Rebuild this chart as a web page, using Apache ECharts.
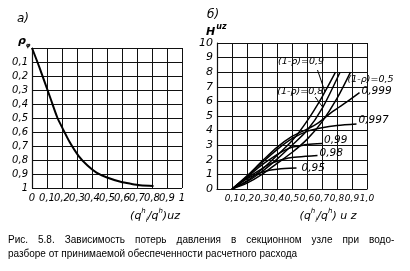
<!DOCTYPE html>
<html><head><meta charset="utf-8">
<script src="https://cdn.jsdelivr.net/npm/echarts@6/dist/echarts.min.js"></script>
<style>html,body{margin:0;padding:0;background:#fff}#c{width:410px;height:271px}</style>
</head><body><div id="c"></div>
<script>
// ---- left chart (а) ----
const leftQ   = [0, 0.05, 0.12, 0.17, 0.20, 0.25, 0.31, 0.37, 0.43, 0.50, 0.59, 0.66, 0.72, 0.81];
const leftRho = [0, 0.14, 0.35, 0.50, 0.565, 0.67, 0.77, 0.84, 0.89, 0.925, 0.955, 0.97, 0.98, 0.985];
const leftXTicks = ['0','0,1','0,2','0,3','0,4','0,5','0,6','0,7','0,8','0,9','1'];
const leftYTicks = ['','0,1','0,2','0,3','0,4','0,5','0,6','0,7','0,8','0,9','1'];

// ---- right chart (б) ----
const q_09 = [0.1, 0.2, 0.3, 0.4, 0.5, 0.6, 0.7, 0.79];
const H_09 = [0, 0.55, 1.35, 2.3, 3.3, 4.65, 6.3, 8.0];
const q_08 = [0.1, 0.2, 0.3, 0.4, 0.5, 0.6, 0.7, 0.82];
const H_08 = [0, 0.5, 1.2, 2.05, 3.0, 4.0, 5.5, 8.0];
const q_05 = [0.1, 0.2, 0.3, 0.4, 0.5, 0.6, 0.7, 0.8, 0.89];
const H_05 = [0, 0.4, 1.0, 1.75, 2.5, 3.4, 4.6, 6.2, 8.0];
const q_0999 = [0.1, 0.2, 0.3, 0.4, 0.5, 0.6, 0.67, 0.77, 0.87, 0.95];
const H_0999 = [0, 0.9, 1.9, 2.85, 3.6, 4.1, 4.5, 5.3, 6.0, 6.6];
const q_0997 = [0.1, 0.2, 0.3, 0.4, 0.5, 0.6, 0.7, 0.8, 0.93];
const H_0997 = [0, 0.85, 1.8, 2.7, 3.45, 3.95, 4.2, 4.35, 4.45];
const q_099 = [0.1, 0.2, 0.3, 0.4, 0.45, 0.5, 0.55, 0.6, 0.7];
const H_099 = [0, 0.8, 1.65, 2.35, 2.65, 2.85, 2.95, 3.05, 3.12];
const q_098 = [0.1, 0.2, 0.3, 0.35, 0.4, 0.45, 0.5, 0.6, 0.67];
const H_098 = [0, 0.75, 1.4, 1.7, 1.9, 2.05, 2.15, 2.25, 2.3];
const q_095 = [0.1, 0.15, 0.2, 0.25, 0.3, 0.35, 0.4, 0.45, 0.53];
const H_095 = [0, 0.35, 0.7, 0.95, 1.15, 1.28, 1.36, 1.41, 1.44];
const rightXTicks = ['','0,1','0,2','0,3','0,4','0,5','0,6','0,7','0,8','0,9','1,0'];
const rightYTicks = ['0','1','2','3','4','5','6','7','8','9','10'];

const captionLine1 = ['Рис.', '5.8.', 'Зависимость', 'потерь', 'давления', 'в', 'секционном', 'узле', 'при', 'водо-'];
const captionLine2 = 'разборе от принимаемой обеспеченности расчетного расхода';

const zip = (a, b) => a.map((v, i) => [v, b[i]]);
const FONT = 'DejaVu Sans';
const lblStyle = {fontStyle: 'italic', fontFamily: FONT, fontSize: 10, color: '#000'};
const gridLine = {show: true, lineStyle: {color: '#111', width: 1}};
const axLine = {show: true, lineStyle: {color: '#111', width: 1.2}};
const qRich = {
  n: {fontStyle: 'italic', fontFamily: FONT, fontSize: 11, color: '#000', lineHeight: 16, verticalAlign: 'middle'},
  p: {fontStyle: 'italic', fontFamily: FONT, fontSize: 7, color: '#000', lineHeight: 16, verticalAlign: 'top'},
  s: {fontStyle: 'italic', fontFamily: FONT, fontSize: 7, color: '#000', lineHeight: 16, verticalAlign: 'bottom'}
};

function curve(name, q, H, extra) {
  return Object.assign({
    name, type: 'line', xAxisIndex: 1, yAxisIndex: 1,
    data: zip(q, H), showSymbol: false, smooth: 0.3, silent: true,
    lineStyle: {color: '#000', width: 1.5}, z: 5
  }, extra || {});
}
function endLbl(text, offset) {
  return {endLabel: {show: true, formatter: text, distance: 2, offset: offset || [0, -2],
    fontStyle: 'italic', fontFamily: FONT, fontSize: 10.5, color: '#000'}};
}

const chart = echarts.init(document.getElementById('c'), null, {renderer: 'canvas'});
chart.setOption({
  animation: false,
  backgroundColor: '#fff',
  title: [
    {text: 'а)', left: 17, top: 13, padding: 0, textStyle: {fontStyle: 'italic', fontFamily: FONT, fontSize: 12, fontWeight: 'normal', color: '#000'}},
    {text: '{a|ρ}{b|φ}', left: 18, top: 34, padding: 0, textStyle: {rich: {a: {fontStyle: 'italic', fontFamily: FONT, fontSize: 11, color: '#000'}, b: {fontStyle: 'italic', fontFamily: FONT, fontSize: 6, color: '#000', padding: [8, 0, 0, 0]}}}},
    {text: 'б)', left: 207, top: 9, padding: 0, textStyle: {fontStyle: 'italic', fontFamily: FONT, fontSize: 12, fontWeight: 'normal', color: '#000'}},
    {text: '{a|H}{b|uz}', left: 206, top: 21, padding: 0, textStyle: {rich: {a: {fontStyle: 'italic', fontFamily: FONT, fontSize: 11, color: '#000', padding: [6, 0, 0, 0]}, b: {fontStyle: 'italic', fontFamily: FONT, fontSize: 8, color: '#000', padding: [0, 0, 6, 1]}}}},
    {text: captionLine1.join('\u2003'), left: 8, top: 235, padding: 0,
      textStyle: {fontFamily: 'Liberation Sans', fontSize: 10, fontWeight: 'normal', color: '#000'}},
    {text: captionLine2, left: 8, top: 249, padding: 0,
      textStyle: {fontFamily: 'Liberation Sans', fontSize: 10, fontWeight: 'normal', color: '#000'}}
  ],
  grid: [
    {left: 32, top: 48, width: 150, height: 140},
    {left: 217, top: 43, width: 150, height: 146}
  ],
  xAxis: [
    {type: 'value', gridIndex: 0, min: 0, max: 1, interval: 0.1, axisLine: axLine, axisTick: {show: false},
      splitLine: gridLine, axisLabel: Object.assign({margin: 5, formatter: (v, i) => leftXTicks[i]}, lblStyle),
      name: '{n|(q}{p|h}{s|i}{n|/q}{p|h}{n|)uz}', nameLocation: 'middle', nameGap: 20,
      nameTextStyle: {rich: qRich, padding: [0, 0, 0, 96]}},
    {type: 'value', gridIndex: 1, min: 0, max: 1, interval: 0.1, axisLine: axLine, axisTick: {show: false},
      splitLine: gridLine, axisLabel: Object.assign({margin: 5, formatter: (v, i) => rightXTicks[i]}, lblStyle, {fontSize: 9}),
      name: '{n|(q}{p|h}{s|i}{n|/q}{p|h}{n|) u z}', nameLocation: 'middle', nameGap: 19,
      nameTextStyle: {rich: qRich, padding: [0, 0, 0, 72]}}
  ],
  yAxis: [
    {type: 'value', gridIndex: 0, min: 0, max: 1, interval: 0.1, inverse: true, axisLine: axLine, axisTick: {show: false},
      splitLine: gridLine, axisLabel: Object.assign({margin: 4, formatter: (v, i) => leftYTicks[i]}, lblStyle)},
    {type: 'value', gridIndex: 1, min: 0, max: 10, interval: 1, axisLine: axLine, axisTick: {show: false},
      splitLine: gridLine, axisLabel: Object.assign({margin: 4, formatter: (v, i) => rightYTicks[i]}, lblStyle, {fontSize: 11})}
  ],
  series: [
    {type: 'line', xAxisIndex: 0, yAxisIndex: 0, data: zip(leftQ, leftRho), showSymbol: false, smooth: 0.3,
      lineStyle: {color: '#000', width: 2}, silent: true},
    curve('0.9', q_09, H_09, {
      markLine: {silent: true, symbol: ['none', 'none'], label: {show: false}, lineStyle: {color: '#000', width: 1, type: 'solid'},
        data: [[{coord: [0.67, 8.15]}, {coord: [0.72, 6.65]}]]},
      markPoint: {silent: true, symbol: 'circle', symbolSize: 1, itemStyle: {color: 'rgba(0,0,0,0)'},
        label: {show: true, position: 'inside', formatter: '(1-ρ)=0,9', fontStyle: 'italic', fontFamily: FONT, fontSize: 9.5, color: '#000'},
        data: [{coord: [0.56, 8.75]}]}
    }),
    curve('0.8', q_08, H_08, {
      markLine: {silent: true, symbol: ['none', 'none'], label: {show: false}, lineStyle: {color: '#000', width: 1, type: 'solid'},
        data: [[{coord: [0.655, 6.3]}, {coord: [0.705, 5.6]}]]},
      markPoint: {silent: true, symbol: 'circle', symbolSize: 1, itemStyle: {color: 'rgba(0,0,0,0)'},
        label: {show: true, position: 'inside', formatter: '(1-ρ)=0,8', fontStyle: 'italic', fontFamily: FONT, fontSize: 9.5, color: '#000'},
        data: [{coord: [0.555, 6.65]}]}
    }),
    curve('0.5', q_05, H_05, {endLabel: {show: true, formatter: '(1-ρ)=0,5', distance: 0, offset: [-3, 7],
      fontStyle: 'italic', fontFamily: FONT, fontSize: 9.5, color: '#000'}}),
    curve('0.999', q_0999, H_0999, endLbl('0,999', [0, -1])),
    curve('0.997', q_0997, H_0997, endLbl('0,997', [0, -4])),
    curve('0.99', q_099, H_099, endLbl('0,99', [0, -3])),
    curve('0.98', q_098, H_098, endLbl('0,98', [0, -2])),
    curve('0.95', q_095, H_095, endLbl('0,95', [3, 0]))
  ]
});
</script></body></html>
